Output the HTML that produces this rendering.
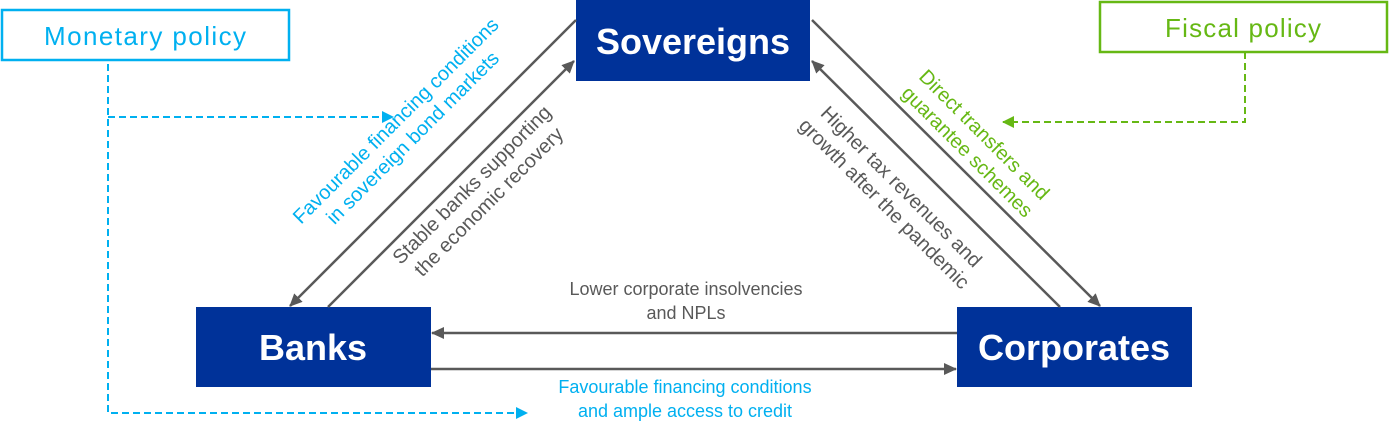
<!DOCTYPE html>
<html><head><meta charset="utf-8"><style>
html,body{margin:0;padding:0;background:#fff;}
svg{display:block;font-family:"Liberation Sans",Arial,sans-serif;}
</style></head><body>
<svg width="1389" height="437" viewBox="0 0 1389 437" xmlns="http://www.w3.org/2000/svg">
<defs>
<marker id="ag" markerWidth="13" markerHeight="12" refX="12" refY="6" orient="auto" markerUnits="userSpaceOnUse"><path d="M0,0 L13,6 L0,12 z" fill="#595959"/></marker>
<marker id="ab" markerWidth="12" markerHeight="12" refX="11" refY="6" orient="auto" markerUnits="userSpaceOnUse"><path d="M0,0 L12,6 L0,12 z" fill="#00b0f0"/></marker>
<marker id="agr" markerWidth="12" markerHeight="12" refX="11" refY="6" orient="auto" markerUnits="userSpaceOnUse"><path d="M0,0 L12,6 L0,12 z" fill="#66b814"/></marker>
</defs>
<rect x="2" y="10" width="287" height="50" fill="#fff" stroke="#00b0f0" stroke-width="2.5"/>
<text x="145" y="45" font-size="26" fill="#00b0f0" text-anchor="middle" textLength="202">Monetary policy</text>
<rect x="1100" y="2" width="287" height="50" fill="#fff" stroke="#66b814" stroke-width="2.5"/>
<text x="1243" y="37" font-size="26" fill="#66b814" text-anchor="middle" textLength="156">Fiscal policy</text>
<g fill="none" stroke="#00b0f0" stroke-width="2" stroke-dasharray="7,4">
<path d="M108,64 L108,413 L527,413" marker-end="url(#ab)"/>
<path d="M108,117 L393,117" marker-end="url(#ab)"/>
</g>
<path d="M1245,52 L1245,122 L1003,122" fill="none" stroke="#66b814" stroke-width="2" stroke-dasharray="7,4" marker-end="url(#agr)"/>
<rect x="576" y="0" width="234" height="81" fill="#003299"/>
<text x="693" y="54" font-size="36" font-weight="bold" fill="#fff" text-anchor="middle">Sovereigns</text>
<rect x="196" y="307" width="235" height="80" fill="#003299"/>
<text x="313" y="360" font-size="36" font-weight="bold" fill="#fff" text-anchor="middle">Banks</text>
<rect x="957" y="307" width="235" height="80" fill="#003299"/>
<text x="1074" y="360" font-size="36" font-weight="bold" fill="#fff" text-anchor="middle">Corporates</text>
<g stroke="#595959" stroke-width="2.5" fill="none">
<path d="M576,20 L290,306" marker-end="url(#ag)"/>
<path d="M328,307 L574,61" marker-end="url(#ag)"/>
<path d="M812,20 L1100,306" marker-end="url(#ag)"/>
<path d="M1060,307 L812,61" marker-end="url(#ag)"/>
<path d="M957,333 L432,333" marker-end="url(#ag)"/>
<path d="M431,369 L956,369" marker-end="url(#ag)"/>
</g>
<g font-size="18" text-anchor="middle">
<text x="686" y="295" fill="#595959">Lower corporate insolvencies</text>
<text x="686" y="319" fill="#595959">and NPLs</text>
<text x="685" y="393" fill="#00b0f0">Favourable financing conditions</text>
<text x="685" y="417" fill="#00b0f0">and ample access to credit</text>
</g>
<g font-size="20" text-anchor="middle">
<g transform="translate(404,129) rotate(-45)">
<text x="0" y="-5" fill="#00b0f0">Favourable financing conditions</text>
<text x="0" y="19" fill="#00b0f0">in sovereign bond markets</text>
</g>
<g transform="translate(480,193) rotate(-45)">
<text x="0" y="-5" fill="#595959">Stable banks supporting</text>
<text x="0" y="19" fill="#595959">the economic recovery</text>
</g>
<g transform="translate(976,143) rotate(45)">
<text x="0" y="-5" fill="#66b814">Direct transfers and</text>
<text x="0" y="19" fill="#66b814">guarantee schemes</text>
</g>
<g transform="translate(893,195) rotate(45)">
<text x="0" y="-5" fill="#595959">Higher tax revenues and</text>
<text x="0" y="19" fill="#595959">growth after the pandemic</text>
</g>
</g>
</svg>
</body></html>
